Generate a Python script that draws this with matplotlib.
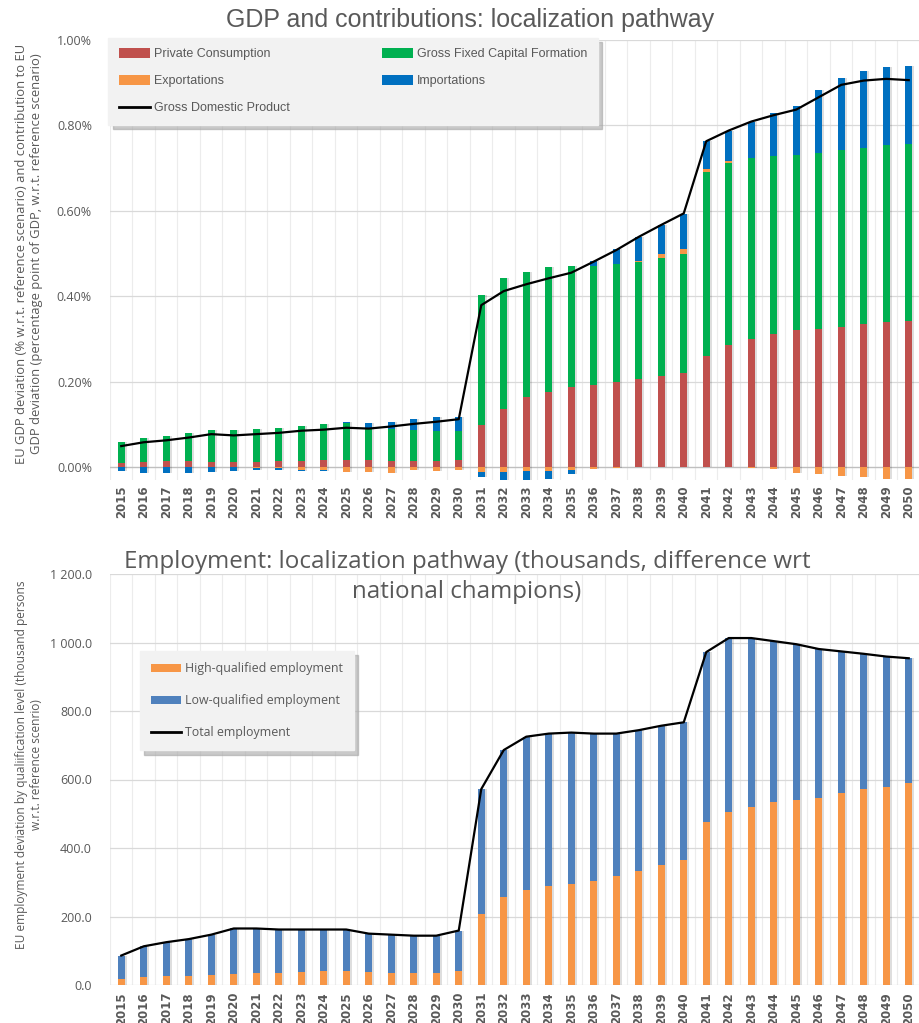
import matplotlib
matplotlib.use('Agg')
import matplotlib.pyplot as plt
import matplotlib.patches as mpatches
from matplotlib.lines import Line2D
from matplotlib.ticker import FuncFormatter
import numpy as np

# ── Data ──────────────────────────────────────────────────────────────────────
years = list(range(2015, 2051))

# GDP contributions (% points)
private_cons = [0.009, 0.012, 0.014, 0.014, 0.011, 0.012, 0.011, 0.014, 0.014, 0.017,
                0.017, 0.017, 0.014, 0.014, 0.014, 0.017, 0.098, 0.137, 0.163, 0.176,
                0.187, 0.192, 0.200, 0.205, 0.214, 0.221, 0.261, 0.286, 0.300, 0.311,
                0.322, 0.324, 0.329, 0.335, 0.340, 0.343]
gfcf = [0.050, 0.056, 0.059, 0.065, 0.076, 0.075, 0.078, 0.078, 0.081, 0.084,
        0.085, 0.075, 0.076, 0.073, 0.070, 0.067, 0.305, 0.305, 0.294, 0.293,
        0.284, 0.279, 0.275, 0.276, 0.276, 0.278, 0.429, 0.427, 0.423, 0.417,
        0.409, 0.412, 0.413, 0.413, 0.413, 0.413]
exports = [0.000, 0.000, 0.000, 0.000, 0.000, 0.000, -0.002, -0.002, -0.007, -0.007,
           -0.012, -0.012, -0.013, -0.008, -0.009, -0.006, -0.012, -0.012, -0.010, -0.010,
           -0.008, -0.005, -0.003, 0.001, 0.008, 0.011, 0.007, 0.003, -0.002, -0.005,
           -0.013, -0.016, -0.020, -0.023, -0.027, -0.029]
imports = [-0.009, -0.013, -0.014, -0.013, -0.011, -0.010, -0.006, -0.005, -0.002, -0.003,
           0.003, 0.011, 0.015, 0.025, 0.032, 0.032, -0.012, -0.023, -0.020, -0.018,
           -0.008, 0.011, 0.035, 0.057, 0.069, 0.083, 0.066, 0.072, 0.086, 0.102,
           0.115, 0.148, 0.170, 0.179, 0.183, 0.183]
gdp = [0.049, 0.058, 0.0625, 0.069, 0.077, 0.074, 0.077, 0.080, 0.085, 0.0875,
       0.092, 0.090, 0.095, 0.101, 0.106, 0.112, 0.379, 0.412, 0.428, 0.442,
       0.455, 0.481, 0.508, 0.539, 0.567, 0.594, 0.763, 0.788, 0.809, 0.824,
       0.837, 0.866, 0.895, 0.905, 0.909, 0.906]

# Employment (thousand persons)
high_q = [18.5, 24, 27, 27, 30, 33, 36, 36, 39, 42, 42, 39, 36, 36, 36, 42,
          206, 257, 278, 290, 296, 305, 317, 333, 349, 365,
          475, 505, 520, 533, 540, 547, 560, 571, 579, 591]
low_q = [67.5, 89, 98, 107, 117, 132, 129, 126, 123, 120, 120, 111, 111, 108, 108, 117,
         366, 429, 447, 444, 441, 429, 417, 411, 408, 402,
         497, 508, 493, 471, 455, 434, 414, 396, 380, 363]
total_emp = [86, 113, 125, 134, 147, 165, 165, 162, 162, 162, 162, 150, 147, 144, 144, 159,
             572, 686, 725, 734, 737, 734, 734, 744, 757, 767,
             972, 1013, 1013, 1004, 995, 981, 974, 967, 959, 954]

# ── Palette / fonts ───────────────────────────────────────────────────────────
C = {
    'pc': '#C0504D', 'gfcf': '#00B050', 'exp': '#F79646', 'imp': '#0070C0',
    'hq': '#F79646', 'lq': '#4F81BD',
    'txt': '#595959', 'grid': '#d9d9d9', 'vgrid': '#ececec',
}
NARROW = ['Liberation Sans Narrow', 'Liberation Sans', 'DejaVu Sans']
REG = ['Open Sans', 'DejaVu Sans']

BAR_W = 0.33
SH_DX = 0.09

x = np.arange(len(years))

fig = plt.figure(figsize=(9.2, 10.23), dpi=100)
W, H = 920, 1023


def px_axes(left, top, right, bottom):
    return fig.add_axes([left / W, 1 - bottom / H, (right - left) / W, (bottom - top) / H])


def style_axes(ax, xpad):
    for s in ax.spines.values():
        s.set_visible(False)
    ax.set_xlim(-0.5, 35.29)
    ax.set_xticks(x)
    ax.set_xticklabels([str(y) for y in years], rotation=90, fontsize=8.5,
                       fontweight='bold', color=C['txt'], family='DejaVu Sans')
    ax.set_xticks(np.arange(-0.5, 36, 1), minor=True)
    ax.tick_params(axis='x', which='both', length=0, pad=xpad)
    ax.tick_params(axis='y', length=0, pad=13, labelsize=9, labelcolor=C['txt'])
    for lb in ax.get_yticklabels():
        lb.set_family(REG)
    ax.set_axisbelow(True)
    ax.yaxis.grid(True, color=C['grid'], lw=0.9)
    ax.xaxis.grid(True, which='minor', color=C['vgrid'], lw=0.8)
    ax.xaxis.grid(False, which='major')


def stacked(ax, series, colors):
    pos = np.zeros(len(x))
    neg = np.zeros(len(x))
    for vals, col in zip(series, colors):
        v = np.asarray(vals, dtype=float)
        bottom = np.where(v >= 0, pos, neg)
        ax.bar(x + SH_DX, v, BAR_W, bottom=bottom, color='#000000', alpha=0.13,
               lw=0, zorder=2)
        ax.bar(x, v, BAR_W, bottom=bottom, color=col, lw=0, zorder=3)
        pos = pos + np.where(v > 0, v, 0)
        neg = neg + np.where(v < 0, v, 0)


# ── Top chart: GDP ────────────────────────────────────────────────────────────
ax1 = px_axes(110, 40, 920, 480)
stacked(ax1, [private_cons, gfcf, exports, imports], [C['pc'], C['gfcf'], C['exp'], C['imp']])
ax1.plot(x, gdp, color='black', lw=1.6, zorder=5)
ax1.axhline(0, color='#bfbfbf', lw=0.9, zorder=1)
ax1.set_ylim(-0.0304, 1.0)
ax1.set_yticks([0, 0.2, 0.4, 0.6, 0.8, 1.0])
ax1.yaxis.set_major_formatter(FuncFormatter(lambda v, p: f'{v:.2f}%'))
style_axes(ax1, 4)

leg1_handles = [
    mpatches.Patch(fc=C['pc'], label='Private Consumption'),
    mpatches.Patch(fc=C['exp'], label='Exportations'),
    Line2D([0], [0], color='black', lw=2, label='Gross Domestic Product'),
    mpatches.Patch(fc=C['gfcf'], label='Gross Fixed Capital Formation'),
    mpatches.Patch(fc=C['imp'], label='Importations'),
]
leg1 = ax1.legend(handles=leg1_handles, ncol=2, loc='upper left',
                  bbox_to_anchor=(-0.002, 1.005, 0.604, 0), mode='expand',
                  prop={'family': NARROW, 'size': 9}, labelcolor=C['txt'],
                  facecolor='#f2f2f2', edgecolor='#f2f2f2', framealpha=1,
                  fancybox=False, shadow={'ox': 3, 'oy': -3, 'color': '#a6a6a6', 'alpha': 0.6},
                  handlelength=2.5, handleheight=0.75, handletextpad=0.3,
                  labelspacing=1.2, borderpad=0.85, borderaxespad=0, columnspacing=1.0)
leg1.set_zorder(10)

fig.text(470 / W, 1 - 20 / H, 'GDP and contributions: localization pathway',
         ha='center', va='center', fontsize=18, color=C['txt'], family=NARROW)
fig.text(29 / W, 1 - 254 / H,
         'EU GDP deviation (% w.r.t. reference scenario) and contribution to EU\n'
         'GDP deviation (percentage point of GDP, w.r.t. reference scenario)',
         ha='center', va='center', rotation=90, fontsize=9.4, color=C['txt'],
         family=REG, linespacing=1.2)

# ── Bottom chart: Employment ─────────────────────────────────────────────────
ax2 = px_axes(110, 574, 920, 985)
stacked(ax2, [high_q, low_q], [C['hq'], C['lq']])
ax2.plot(x, total_emp, color='black', lw=1.6, zorder=5)
ax2.set_ylim(0, 1200)
ax2.set_yticks(np.arange(0, 1201, 200))
ax2.yaxis.set_major_formatter(FuncFormatter(lambda v, p: f'{v:,.1f}'.replace(',', ' ')))
style_axes(ax2, 5)

leg2_handles = [
    mpatches.Patch(fc=C['hq'], label='High-qualified employment'),
    mpatches.Patch(fc=C['lq'], label='Low-qualified employment'),
    Line2D([0], [0], color='black', lw=2, label='Total employment'),
]
leg2 = ax2.legend(handles=leg2_handles, loc='upper left',
                  bbox_to_anchor=(0.037, 0.813),
                  prop={'family': REG, 'size': 8.9}, labelcolor=C['txt'],
                  facecolor='#f2f2f2', edgecolor='#f2f2f2', framealpha=1,
                  fancybox=False, shadow={'ox': 3, 'oy': -3, 'color': '#a6a6a6', 'alpha': 0.6},
                  handlelength=2.4, handleheight=0.6, handletextpad=0.35,
                  labelspacing=1.55, borderpad=0.9, borderaxespad=0)
leg2.set_zorder(10)

fig.text(467 / W, 1 - 577 / H,
         'Employment: localization pathway (thousands, difference wrt\nnational champions)',
         ha='center', va='center', fontsize=17.4, color=C['txt'], family=REG,
         linespacing=1.35)
fig.text(29 / W, 1 - 765 / H,
         'EU employment deviation by qualiification level (thousand persons\n'
         'w.r.t. reference scenrio)',
         ha='center', va='center', rotation=90, fontsize=8.6, color=C['txt'],
         family=REG, linespacing=1.25)

fig.savefig('out.png', dpi=100, facecolor='white')
